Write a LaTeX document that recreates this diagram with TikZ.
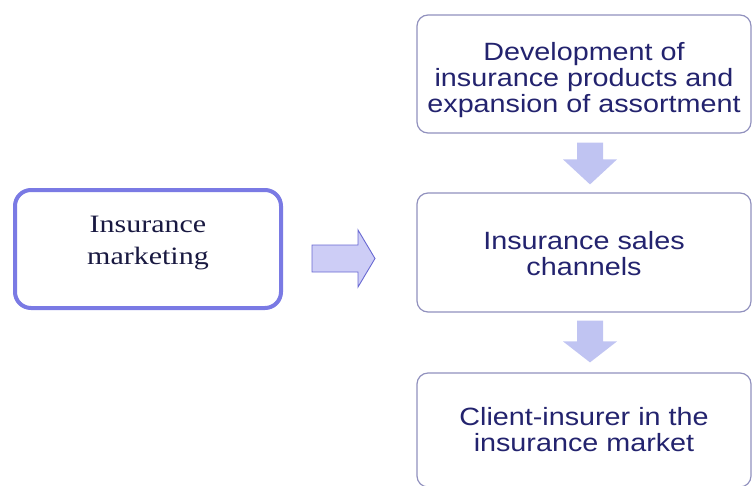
\documentclass[tikz,border=0pt]{standalone}
\usepackage{fontspec}
\usetikzlibrary{calc}
\newfontfamily\boxsans[FakeStretch=1.15]{Liberation Sans}
\newfontfamily\boxserif[FakeStretch=1.2]{Liberation Serif}
\definecolor{leftedge}{RGB}{122,122,228}
\definecolor{rightedge}{RGB}{145,145,190}
\definecolor{sanstext}{RGB}{35,35,110}
\definecolor{seriftext}{RGB}{25,25,65}
\definecolor{arrowfill}{RGB}{205,205,246}
\definecolor{arrowedge}{RGB}{105,105,210}
\definecolor{downfill}{RGB}{192,196,242}
\begin{document}
\begin{tikzpicture}[x=1pt,y=-1pt,
  mainbox/.style={draw=leftedge,line width=4pt,rounded corners=16pt,fill=white,
    minimum width=266pt,minimum height=118pt},
  maintext/.style={align=center,text=seriftext,
    font=\boxserif\fontsize{25}{32}\selectfont},
  stagebox/.style={draw=rightedge,line width=1.2pt,rounded corners=11pt,fill=white,
    minimum width=334pt},
  stagetext/.style={align=center,text=sanstext,
    font=\boxsans\fontsize{25}{26}\selectfont},
  sidearrow/.style={fill=arrowfill,draw=arrowedge,line width=0.9pt,line join=miter},
  downarrow/.style={fill=downfill,draw=none}]
\useasboundingbox (0,0) rectangle (754,485);

% left block
\node[mainbox] (mkt) at (148,249) {};
\node[maintext] (mktlabel) at ($(mkt)+(0,-6)$) {Insurance\\marketing};

% stages on the right
\node[stagebox,minimum height=118pt] (dev) at (584,74) {};
\node[stagetext] (devlabel) at ($(dev)+(0,6)$)
  {Development of\\insurance products and\\expansion of assortment};
\node[stagebox,minimum height=119pt] (sales) at (584,252.5) {};
\node[stagetext] (saleslabel) at ($(sales)+(0,1)$) {Insurance sales\\channels};
\node[stagebox,minimum height=114pt] (client) at (584,430) {};
\node[stagetext] (clientlabel) at ($(client)+(0,0)$) {Client-insurer in the\\insurance market};

% block arrow from the left block towards the stages
\draw[sidearrow]
  ($(mkt.east)+(29,-4)$) -- ($(mkt.east)+(75,-4)$) -- ($(mkt.east)+(75,-19)$)
  -- ($(mkt.east)+(92,9.5)$) -- ($(mkt.east)+(75,38)$) -- ($(mkt.east)+(75,23)$)
  -- ($(mkt.east)+(29,23)$) -- cycle;

% downward block arrows between the stages
\fill[downarrow]
  ($(dev.south)+(-7,9)$) -- ($(dev.south)+(19,9)$) -- ($(sales.north)+(19,-33)$)
  -- ($(sales.north)+(33,-33)$) -- ($(sales.north)+(6,-8)$) -- ($(sales.north)+(-21,-33)$)
  -- ($(sales.north)+(-7,-33)$) -- cycle;
\fill[downarrow]
  ($(sales.south)+(-7,8)$) -- ($(sales.south)+(19,8)$) -- ($(client.north)+(19,-31)$)
  -- ($(client.north)+(33,-31)$) -- ($(client.north)+(6,-10)$) -- ($(client.north)+(-21,-31)$)
  -- ($(client.north)+(-7,-31)$) -- cycle;
\end{tikzpicture}
\end{document}
